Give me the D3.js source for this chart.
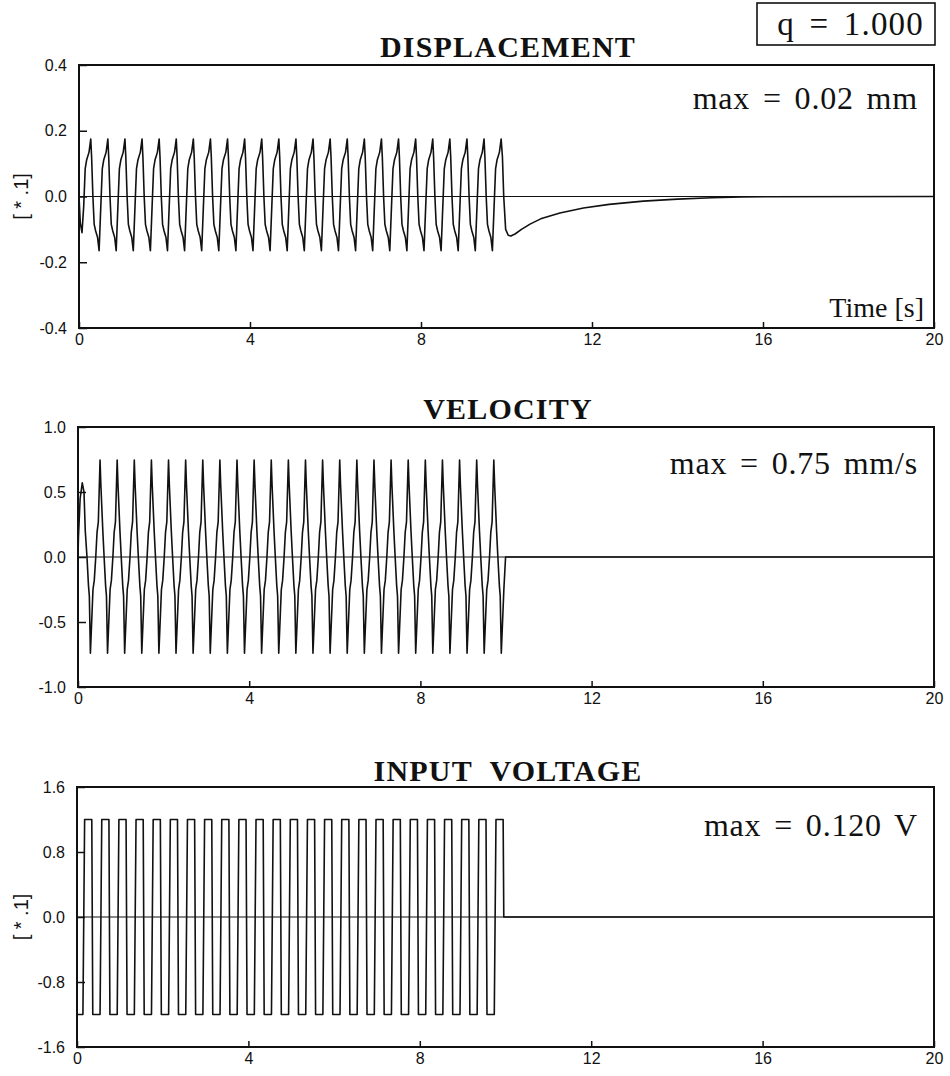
<!DOCTYPE html>
<html><head><meta charset="utf-8">
<script src="https://cdn.jsdelivr.net/npm/d3@7"></script>
<style>body{margin:0;background:#fff}</style>
</head><body>
<svg id="c" width="950" height="1076"></svg>
<script>
// ---------- data ----------
const timeTicks = [0, 4, 8, 12, 16, 20];
const dispTicks = [-0.4, -0.2, 0.0, 0.2, 0.4];
const velTicks  = [-1.0, -0.5, 0.0, 0.5, 1.0];
const voltTicks = [-1.6, -0.8, 0.0, 0.8, 1.6];

// start time of each of the 25 excitation cycles [s]
const cycleStarts = [0.0, 0.4, 0.8, 1.2, 1.6, 2.0, 2.4, 2.8, 3.2, 3.6, 4.0, 4.4, 4.8,
                     5.2, 5.6, 6.0, 6.4, 6.8, 7.2, 7.6, 8.0, 8.4, 8.8, 9.2, 9.6];

// displacement [*.1 mm]: one cycle, offsets from each trough
const dispTroughOffset = 0.07;
const dispCycleT = [0.000, 0.040, 0.075, 0.110, 0.165, 0.205, 0.225, 0.255, 0.285, 0.320, 0.365];
const dispCycleV = [-0.165, -0.03, 0.085, 0.112, 0.135, 0.175, 0.12, 0.0, -0.085, -0.105, -0.125];
const dispFirstTrough = -0.11;
const dispStartT = [0.0, 0.03];
const dispStartV = [0.0, -0.08];
const dispEndT = [9.905, 9.935, 9.98, 10.04, 10.1, 10.2, 10.35, 10.55, 10.8, 11.25, 11.8, 12.4, 13.2, 14.0, 14.8, 15.5, 20.0];
const dispEndV = [0.12, 0.0, -0.10, -0.118, -0.12, -0.114, -0.100, -0.084, -0.068, -0.050, -0.035, -0.024, -0.014, -0.008, -0.004, -0.001, 0.0];

// velocity [mm/s]: one cycle, offsets from each trough
const velTroughOffset = 0.29;
const velCycleT = [0.000, 0.060, 0.090, 0.125, 0.155, 0.185, 0.225, 0.245, 0.290, 0.320, 0.355, 0.375];
const velCycleV = [-0.74, -0.25, -0.18, 0.0, 0.19, 0.27, 0.745, 0.55, 0.20, 0.0, -0.22, -0.30];
const velStartT = [0.0, 0.01, 0.05, 0.10, 0.14, 0.17, 0.21, 0.245, 0.265];
const velStartV = [0.0, 0.15, 0.45, 0.57, 0.50, 0.20, 0.0, -0.22, -0.30];
const velEndT = [9.89, 9.95, 9.99, 20.0];
const velEndV = [-0.74, -0.25, 0.0, 0.0];

// input voltage [*.1 V]: one cycle, offsets from cycle start
const voltCycleT = [0.178, 0.345, 0.368, 0.538];
const voltCycleV = [1.2, 1.2, -1.2, -1.2];
const voltStartT = [0.0, 0.0, 0.138];
const voltStartV = [0.0, -1.2, -1.2];
const voltEndT = [9.96, 20.0];
const voltEndV = [0.0, 0.0];

// ---------- build series ----------
function zip(T, V) { return T.map((t, i) => [t, V[i]]); }

const dispData = zip(dispStartT, dispStartV);
cycleStarts.forEach((c, k) => {
  const last = k === cycleStarts.length - 1;
  dispCycleT.forEach((o, i) => {
    if (last && o > 0.205) return;
    let v = dispCycleV[i];
    if (k === 0 && i === 0) v = dispFirstTrough;
    dispData.push([c + dispTroughOffset + o, v]);
  });
});
dispData.push(...zip(dispEndT, dispEndV));

const velData = zip(velStartT, velStartV);
cycleStarts.slice(0, cycleStarts.length - 1).forEach(c => {
  velCycleT.forEach((o, i) => velData.push([c + velTroughOffset + o, velCycleV[i]]));
});
velData.push(...zip(velEndT, velEndV));

const voltData = zip(voltStartT, voltStartV);
cycleStarts.forEach((c, k) => {
  const last = k === cycleStarts.length - 1;
  voltCycleT.forEach((o, i) => {
    if (last && i > 1) return;
    voltData.push([c + o, voltCycleV[i]]);
  });
});
voltData.push(...zip(voltEndT, voltEndV));

// ---------- drawing ----------
const svg = d3.select("#c");
const serif = "'Liberation Serif','Times New Roman',serif";
const sans = "'Liberation Sans',Arial,sans-serif";

const panels = [
  {title: "DISPLACEMENT", left: 79, top: 65, bottom: 328, ticks: dispTicks, data: dispData,
   maxText: "max = 0.02 mm", maxY: 109, ylabel: true, titleY: 57},
  {title: "VELOCITY", left: 78, top: 427, bottom: 687, ticks: velTicks, data: velData,
   maxText: "max = 0.75 mm/s", maxY: 474, ylabel: false, titleY: 419},
  {title: "INPUT VOLTAGE", left: 77, top: 787, bottom: 1047, ticks: voltTicks, data: voltData,
   maxText: "max = 0.120 V", maxY: 836, ylabel: true, titleY: 781, ws: 9}
];
const right = 934;

panels.forEach((p, pi) => {
  const x = d3.scaleLinear().domain([0, 20]).range([p.left, right]);
  const y = d3.scaleLinear().domain([p.ticks[0], p.ticks[p.ticks.length - 1]]).range([p.bottom, p.top]);
  const g = svg.append("g");

  // zero line
  g.append("line").attr("x1", x(0)).attr("x2", x(20)).attr("y1", y(0)).attr("y2", y(0))
    .attr("stroke", "#111").attr("stroke-width", 1.2);

  // signal
  g.append("path").datum(p.data)
    .attr("d", d3.line().x(d => x(d[0])).y(d => y(d[1])))
    .attr("fill", "none").attr("stroke", "#111").attr("stroke-width", 1.6)
    .attr("stroke-linejoin", "round");

  // axes
  const ya = g.append("g").attr("transform", `translate(${p.left},0)`)
    .call(d3.axisLeft(y).tickValues(p.ticks).tickSizeInner(-8).tickSizeOuter(0)
      .tickPadding(12).tickFormat(d => d.toFixed(1)));
  const xa = g.append("g").attr("transform", `translate(0,${p.bottom})`)
    .call(d3.axisBottom(x).tickValues(timeTicks).tickSizeInner(-6).tickSizeOuter(0)
      .tickPadding(6).tickFormat(d3.format("d")));
  [ya, xa].forEach(a => {
    a.select(".domain").remove();
    a.selectAll("line").attr("stroke", "#111").attr("stroke-width", 1.5);
    a.selectAll("text").attr("font-family", sans).attr("font-size", 16).attr("fill", "#111");
  });

  // frame
  g.append("rect").attr("x", p.left).attr("y", p.top)
    .attr("width", right - p.left).attr("height", p.bottom - p.top)
    .attr("fill", "none").attr("stroke", "#111").attr("stroke-width", 2);

  // title
  g.append("text").attr("x", 508).attr("y", p.titleY).attr("text-anchor", "middle")
    .attr("font-family", serif).attr("font-weight", "bold").attr("font-size", 30)
    .attr("letter-spacing", 1.2).attr("word-spacing", p.ws || 0)
    .attr("fill", "#111").text(p.title);

  // max annotation
  g.append("text").attr("x", 918).attr("y", p.maxY).attr("text-anchor", "end")
    .attr("font-family", serif).attr("font-size", 32).attr("letter-spacing", 0.8)
    .attr("word-spacing", 4).attr("fill", "#111").text(p.maxText);

  if (p.ylabel) {
    const cy = y(0);
    g.append("text").attr("transform", `translate(28,${cy}) rotate(-90)`)
      .attr("text-anchor", "middle").attr("font-family", sans).attr("font-size", 20)
      .attr("fill", "#111").style("white-space", "pre").text("[ * .1]");
  }
  if (pi === 0) {
    g.append("text").attr("x", 924).attr("y", 317).attr("text-anchor", "end")
      .attr("font-family", serif).attr("font-size", 28).attr("fill", "#111").text("Time [s]");
  }
});

// q box
svg.append("rect").attr("x", 757).attr("y", 3).attr("width", right + 1 - 757).attr("height", 42)
  .attr("fill", "#fff").attr("stroke", "#111").attr("stroke-width", 1.6);
svg.append("text").attr("x", 924).attr("y", 35).attr("text-anchor", "end")
  .attr("font-family", serif).attr("font-size", 33).attr("letter-spacing", 1.2)
  .attr("word-spacing", 5).attr("fill", "#111").text("q = 1.000");
</script>
</body></html>
